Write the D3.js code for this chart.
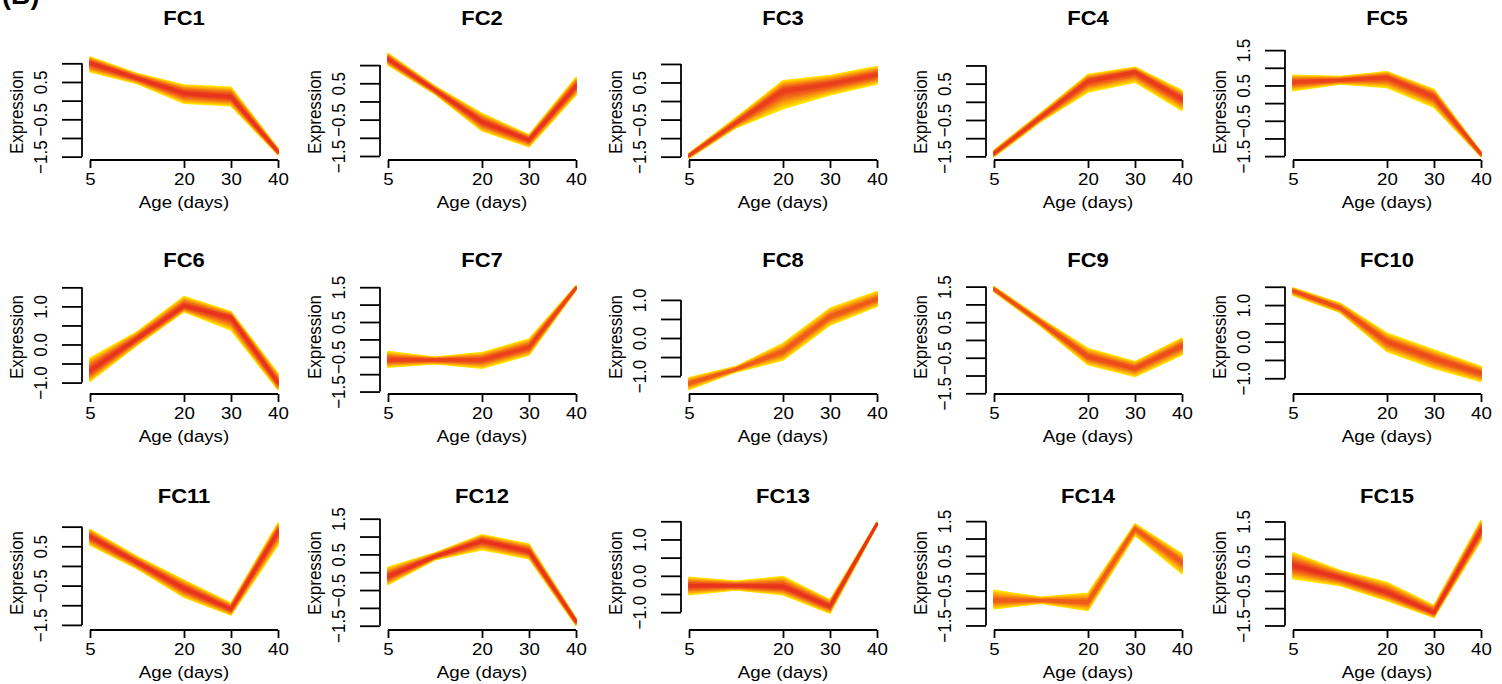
<!DOCTYPE html>
<html>
<head>
<meta charset="utf-8">
<script src="https://cdn.jsdelivr.net/npm/d3@7"></script>
<style>
    body { margin: 0; background: #fff; }
    text { font-family: "Liberation Sans", Arial, Helvetica, sans-serif; fill: #000; }
</style>
</head>
<body>
<script>
    //Data
        const clusterNames = ["FC1","FC2","FC3","FC4","FC5","FC6","FC7","FC8","FC9","FC10","FC11","FC12","FC13","FC14","FC15"];
        const timeIndex = [1, 2, 3, 4, 5];
        const xTickIndex = [1, 3, 4, 5];
        const xTickLabels = ["5", "20", "30", "40"];

        //center of each cluster band, one value per time point
        const centerProfiles = [
            [1.01, 0.60, 0.20, 0.10, -1.37],
            [1.17, 0.31, -0.56, -1.06, 0.42],
            [-1.47, -0.59, 0.28, 0.46, 0.71],
            [-1.42, -0.42, 0.57, 0.82, 0.08],
            [0.60, 0.65, 0.73, 0.18, -1.44],
            [-0.69, 0.15, 1.01, 0.71, -1.00],
            [-0.59, -0.59, -0.59, -0.23, 1.48],
            [-1.19, -0.82, -0.36, 0.56, 1.02],
            [1.43, 0.49, -0.47, -0.80, -0.17],
            [1.39, 0.92, 0.00, -0.46, -0.86],
            [0.75, 0.09, -0.57, -1.10, 0.87],
            [-0.12, 0.44, 0.88, 0.58, -1.38],
            [-0.27, -0.27, -0.30, -0.84, 1.43],
            [-0.78, -0.78, -0.83, 1.28, 0.32],
            [0.23, -0.12, -0.55, -1.13, 1.24]
        ];

        //top edge of the band
        const upperBounds = [
            [1.17, 0.73, 0.42, 0.36, -1.28],
            [1.32, 0.42, -0.33, -0.92, 0.66],
            [-1.41, -0.45, 0.55, 0.69, 0.93],
            [-1.33, -0.30, 0.75, 0.95, 0.31],
            [0.79, 0.75, 0.89, 0.39, -1.38],
            [-0.36, 0.33, 1.26, 0.86, -0.76],
            [-0.35, -0.51, -0.38, 0.01, 1.54],
            [-1.04, -0.75, -0.14, 0.78, 1.22],
            [1.50, 0.60, -0.24, -0.61, 0.05],
            [1.47, 1.05, 0.23, -0.23, -0.68],
            [0.93, 0.24, -0.36, -0.95, 1.09],
            [0.14, 0.54, 1.05, 0.79, -1.29],
            [-0.04, -0.15, -0.02, -0.66, 1.47],
            [-0.49, -0.69, -0.57, 1.42, 0.56],
            [0.60, 0.09, -0.26, -0.92, 1.53]
        ];

        //bottom edge of the band
        const lowerBounds = [
            [0.77, 0.46, -0.07, -0.14, -1.45],
            [1.00, 0.20, -0.81, -1.25, 0.18],
            [-1.54, -0.72, -0.21, 0.17, 0.46],
            [-1.51, -0.54, 0.27, 0.54, -0.24],
            [0.35, 0.54, 0.44, -0.12, -1.52],
            [-0.97, -0.02, 0.86, 0.38, -1.19],
            [-0.80, -0.70, -0.83, -0.45, 1.42],
            [-1.35, -0.89, -0.58, 0.34, 0.83],
            [1.36, 0.38, -0.70, -1.03, -0.42],
            [1.27, 0.80, -0.27, -0.73, -1.09],
            [0.53, -0.07, -0.80, -1.25, 0.53],
            [-0.35, 0.35, 0.63, 0.38, -1.49],
            [-0.52, -0.39, -0.52, -1.03, 1.38],
            [-1.02, -0.86, -1.07, 1.09, -0.01],
            [-0.15, -0.35, -0.78, -1.27, 0.95]
        ];

        //y range of each panel
        const yLimits = [
            [-1.59, 1.41], [-1.61, 1.47], [-1.59, 1.43], [-1.60, 1.48], [-1.61, 1.56],
            [-1.30, 1.64], [-1.57, 1.65], [-1.47, 1.47], [-1.52, 1.63], [-1.43, 1.63],
            [-1.63, 1.22], [-1.62, 1.52], [-1.49, 1.59], [-1.63, 1.59], [-1.63, 1.60]
        ];

        //highest membership seen in each cluster (colour of the core)
        const maxMembership = [1.0, 1.0, 0.92, 0.95, 0.9, 1.0, 0.9, 0.72, 0.82, 0.82, 1.0, 1.0, 1.0, 0.72, 1.0];


    //Set up dimensions
        const width = 1502;
        const height = 684;
        const plotHeight = 112;
        const colLeft = [0, 298, 599, 904, 1203];
        const rows = [
            {axisY: 160, titleY: 18, ylabY: 112},
            {axisY: 394, titleY: 260, ylabY: 337},
            {axisY: 630, titleY: 496, ylabY: 573}
        ];
        const stretch = "scale(1.1,1)";

        const memColor = d3.scaleLinear()
                           .domain([0, 0.15, 0.35, 0.6, 1])
                           .range(["#FFE800", "#FFC800", "#FA9E0C", "#F26C18", "#E8341E"]);

        const fmt = d3.format(".1f");


    //Make the SVG
        const svg = d3.select("body")
                    .append("svg")
                    .attr("width", width)
                    .attr("height", height);

        svg.append("rect")
            .attr("width", width)
            .attr("height", height)
            .attr("fill", "#fff");

        //panel tag, cut off at the top of the figure as in the source
        svg.append("text")
            .attr("x", 2)
            .attr("y", 4)
            .attr("font-size", 27)
            .attr("font-weight", "bold")
            .text("(B)");


    //Draw each panel
        clusterNames.forEach((name, i) => {
            const row = rows[Math.floor(i / 5)];
            const ox = colLeft[i % 5];

            const xScale = d3.scaleLinear()
                             .domain([1, 5])
                             .range([ox + 90, ox + 278]);

            const yScale = d3.scaleLinear()
                             .domain(yLimits[i])
                             .range([row.axisY, row.axisY - plotHeight]);

            const pts = timeIndex.map((t, j) => ({
                t: t,
                c: centerProfiles[i][j],
                hi: upperBounds[i][j],
                lo: lowerBounds[i][j]
            }));

            const g = svg.append("g");

            //band: yellow outside, red inside
            const layers = 10;
            d3.range(layers).forEach(k => {
                const f = 1 - k / layers;
                const col = memColor(k / (layers - 1) * maxMembership[i]);
                const area = d3.area()
                               .x(d => xScale(d.t))
                               .y0(d => yScale(d.c + f * (d.lo - d.c)))
                               .y1(d => yScale(d.c + f * (d.hi - d.c)));
                g.append("path")
                    .datum(pts)
                    .attr("d", area)
                    .attr("fill", col)
                    .attr("stroke", col)
                    .attr("stroke-width", 1.5)
                    .attr("stroke-linejoin", "round");
            });

            const line = d3.line()
                           .x(d => xScale(d.t))
                           .y(d => yScale(d.c));

            g.append("path")
                .datum(pts)
                .attr("d", line)
                .attr("fill", "none")
                .attr("stroke", memColor(maxMembership[i]))
                .attr("stroke-width", 3)
                .attr("stroke-linejoin", "round");


        //Set up axes
            const lo = yLimits[i][0], hi = yLimits[i][1];
            const yTicks = d3.range(Math.ceil(lo * 2) / 2, hi + 1e-9, 0.5);

            const leftAxis = d3.axisLeft()
                               .scale(yScale)
                               .tickValues(yTicks)
                               .tickSize(20)
                               .tickFormat((d, k) => k % 2 === 0 ? fmt(d) : "");

            const bottomAxis = d3.axisBottom()
                                 .scale(xScale)
                                 .tickValues(xTickIndex)
                                 .tickSize(8)
                                 .tickFormat((d, k) => xTickLabels[k]);

            const gy = g.append("g")
                .attr("transform", "translate(" + (ox + 82) + ",0)")
                .call(leftAxis);

            gy.select(".domain")
                .attr("d", "M0," + yScale(yTicks[0]) + "V" + yScale(yTicks[yTicks.length - 1]));

            gy.selectAll(".tick text")
                .attr("x", null)
                .attr("dy", null)
                .attr("text-anchor", "middle")
                .attr("transform", "translate(-35,0) " + stretch + " rotate(-90)");

            const gx = g.append("g")
                .attr("transform", "translate(0," + row.axisY + ")")
                .call(bottomAxis);

            gx.select(".domain")
                .attr("d", "M" + xScale(1) + ",0H" + xScale(5));

            gx.selectAll(".tick text")
                .attr("y", 13)
                .attr("transform", stretch);

            g.selectAll(".domain, .tick line")
                .attr("stroke", "#000")
                .attr("stroke-width", 1.8);

            g.selectAll(".tick text")
                .attr("font-size", 17)
                .attr("font-family", "Liberation Sans, Arial, sans-serif")
                .attr("fill", "#000");


        //Titles and labels
            g.append("text")
                .attr("transform", "translate(" + (ox + 184) + "," + (row.titleY + 7) + ") " + stretch)
                .attr("text-anchor", "middle")
                .attr("font-size", 20)
                .attr("font-weight", "bold")
                .text(name);

            g.append("text")
                .attr("transform", "translate(" + (ox + 184) + "," + (row.axisY + 48) + ") " + stretch)
                .attr("text-anchor", "middle")
                .attr("font-size", 17)
                .text("Age (days)");

            g.append("text")
                .attr("transform", "translate(" + (ox + 23) + "," + row.ylabY + ") " + stretch + " rotate(-90)")
                .attr("text-anchor", "middle")
                .attr("font-size", 17)
                .text("Expression");
        });
</script>
</body>
</html>
